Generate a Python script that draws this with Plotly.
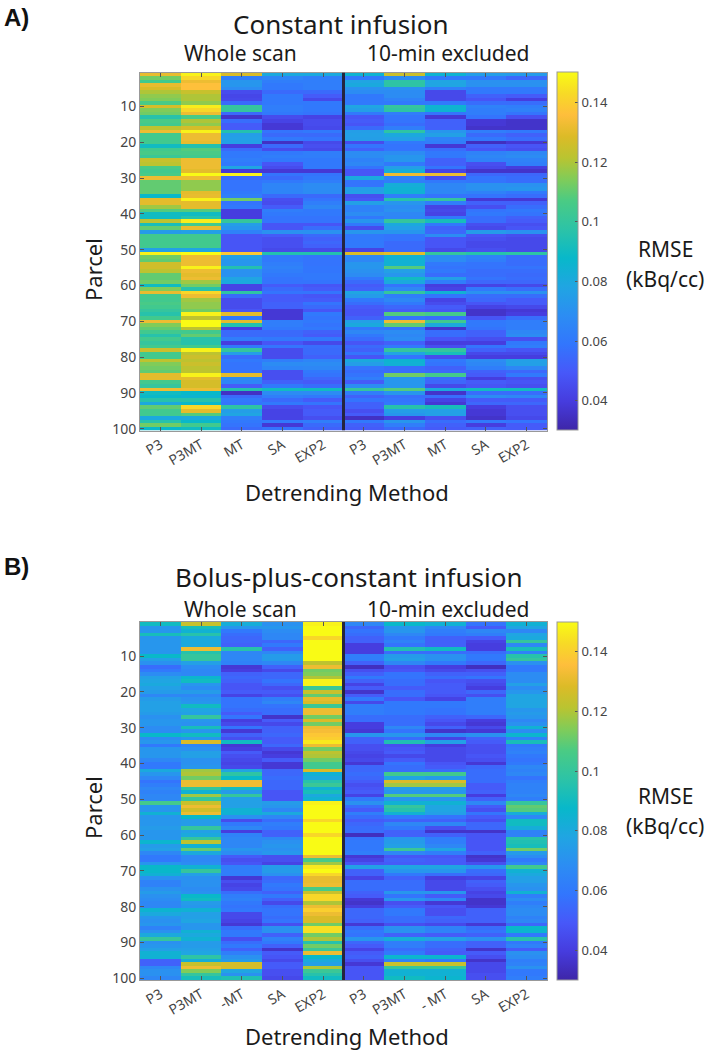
import plotly.graph_objects as go

METHODS_A = ["P3", "P3MT", "MT", "SA", "EXP2", "P3", "P3MT", "MT", "SA", "EXP2"]
METHODS_B = ["P3", "P3MT", "-MT", "SA", "EXP2", "P3", "P3MT", "- MT", "SA", "EXP2"]
PARCELS = list(range(1, 101))
YTICKS = [10, 20, 30, 40, 50, 60, 70, 80, 90, 100]
CBTICKS = [0.04, 0.06, 0.08, 0.1, 0.12, 0.14]

# RMSE in thousandths of kBq/cc, parcel 1 to 100
A_P3 = [131,112,104,131,128,120,116,114,106,127,
        114,112,96,106,104,122,132,104,104,104,
        90,104,106,102,124,122,106,104,106,132,
        110,110,110,110,88,130,130,118,108,90,
        90,122,92,110,74,104,104,104,104,76,
        148,112,110,126,126,122,110,110,112,90,
        114,131,104,104,106,104,100,96,104,132,
        114,110,104,96,104,100,104,125,104,104,
        122,114,112,110,130,130,104,100,132,90,
        88,96,80,110,104,104,80,96,112,88]
A_P3MT = [148,142,132,136,136,124,120,120,116,147,
          142,132,106,120,116,127,148,132,132,131,
          95,108,106,104,132,132,132,130,150,132,
          116,116,116,130,131,148,130,130,108,90,
          96,147,104,131,76,104,104,104,104,78,
          150,132,132,132,148,132,130,132,118,112,
          96,142,132,118,116,116,112,148,122,150,
          150,122,104,110,96,96,104,148,122,125,
          122,125,122,122,148,130,127,127,132,88,
          85,96,88,142,130,108,80,88,104,90]
A_MT = [128,62,72,72,68,45,43,44,55,100,
        100,55,36,56,50,50,95,75,76,76,
        40,55,60,60,62,60,78,38,148,55,
        58,58,58,60,62,112,58,60,40,40,
        40,100,75,72,64,48,48,48,48,48,
        138,75,72,72,95,70,70,78,80,42,
        42,98,55,45,45,45,48,130,60,130,
        95,40,55,55,62,40,60,100,75,55,
        60,58,58,58,130,68,65,50,95,35,
        55,60,58,98,75,78,62,60,58,55]
A_SA = [80,65,62,60,60,55,60,60,60,62,
        62,60,45,42,38,38,58,55,60,35,
        55,45,60,62,60,48,45,38,58,55,
        60,65,65,65,55,46,45,50,62,60,
        58,58,48,48,70,50,46,46,46,44,
        95,60,60,62,64,62,60,58,58,50,
        55,58,50,50,52,52,38,38,38,62,
        62,60,55,55,60,48,58,45,45,45,
        62,68,65,46,46,46,52,60,90,68,
        62,55,60,45,42,42,42,60,38,58]
A_EXP2 = [80,62,62,62,62,55,50,44,60,60,
          60,58,42,45,45,44,60,55,58,44,
          46,44,62,62,60,60,60,38,58,60,
          62,68,68,68,55,58,62,66,60,60,
          58,58,48,56,70,55,52,54,52,44,
          95,58,58,58,59,59,60,60,58,48,
          50,58,48,50,58,55,48,60,58,60,
          58,60,52,50,60,44,56,55,55,52,
          65,68,66,60,58,54,50,56,90,68,
          60,50,58,48,50,50,46,62,55,52]
A_P3X = [85,60,78,80,70,68,60,60,60,78,
         75,60,48,50,48,55,75,76,75,45,
         58,52,68,68,64,66,58,48,48,80,
         58,58,75,76,46,48,76,64,64,68,
         60,72,60,45,72,60,60,60,60,42,
         128,66,66,72,72,70,68,60,55,50,
         52,78,74,60,56,50,48,48,52,76,
         80,60,66,60,56,48,55,52,58,48,
         80,75,58,56,58,62,50,68,100,62,
         52,58,52,52,46,50,35,60,52,50]
A_P3MTX = [125,68,98,98,70,68,68,64,60,100,
           98,62,58,58,56,62,98,80,76,60,
           58,58,68,72,72,60,75,82,132,64,
           62,82,84,84,62,96,72,68,70,66,
           65,100,80,76,72,58,58,55,55,55,
           130,84,84,84,108,76,72,90,80,58,
           66,100,62,66,60,54,50,108,58,132,
           110,58,68,66,68,52,60,100,78,58,
           85,84,56,56,112,72,72,72,108,72,
           56,58,60,96,75,72,40,72,62,55]
A_MTX = [85,60,78,78,62,44,44,44,60,85,
         85,58,38,52,52,52,72,76,64,62,
         38,56,60,60,52,52,58,42,132,46,
         60,66,66,66,58,100,62,42,44,42,
         60,92,60,52,54,68,48,48,48,44,
         100,68,68,60,58,60,56,76,62,40,
         42,84,58,42,45,50,48,105,56,104,
         80,36,56,56,48,40,46,100,92,45,
         60,58,52,54,105,56,54,44,80,36,
         56,42,38,92,76,76,46,56,52,50]
A_SAX = [75,60,70,70,60,60,52,48,56,64,
         62,62,58,38,38,36,62,55,60,34,
         52,48,64,66,64,46,44,36,54,58,
         58,70,70,64,58,38,52,46,58,60,
         56,56,46,44,74,48,46,44,44,46,
         96,64,62,58,58,56,56,58,54,42,
         60,70,56,54,48,42,36,36,48,60,
         60,58,52,52,46,40,58,52,44,40,
         68,66,62,52,50,40,50,48,90,56,
         68,50,54,40,38,38,36,60,40,52]
A_EXP2X = [74,54,70,70,60,60,50,40,56,62,
           64,58,46,36,36,36,60,52,56,38,
           48,46,66,68,64,62,40,36,54,56,
           56,70,72,60,56,38,52,56,60,58,
           52,50,46,48,70,46,44,44,44,44,
           98,56,56,56,58,56,55,56,54,44,
           56,70,56,50,50,44,38,40,56,62,
           62,62,66,68,46,60,62,48,44,40,
           76,76,66,54,60,46,48,46,90,56,
           66,50,54,46,46,46,44,58,50,50]

B_P3 = [90,72,72,92,72,72,72,72,72,88,
        76,70,56,60,68,76,78,80,76,74,
        66,74,76,76,76,74,70,72,72,68,
        68,88,68,72,60,72,72,72,66,60,
        60,80,72,66,58,62,66,64,66,66,
        105,72,72,84,72,72,72,74,72,72,
        72,86,74,76,66,60,60,72,88,88,
        84,70,64,64,70,74,70,68,66,66,
        85,80,72,70,72,64,70,80,100,70,
        72,76,84,84,52,52,66,70,70,66]
B_P3MT = [124,92,84,96,80,80,80,132,96,100,
          100,76,68,66,66,86,90,72,68,74,
          66,70,72,90,78,76,100,72,70,92,
          72,90,72,128,66,70,76,76,70,70,
          72,118,120,112,132,132,100,84,118,100,
          124,132,126,132,88,74,74,100,76,80,
          100,122,84,110,80,66,66,68,84,100,
          76,70,70,70,68,70,88,90,74,72,
          84,76,76,78,72,72,84,80,84,74,
          74,76,78,98,82,124,132,114,100,92]
B_MT = [82,72,60,56,54,54,52,96,66,66,
        66,64,38,40,52,54,52,48,48,50,
        42,58,58,58,56,50,58,40,44,58,
        38,52,46,90,38,40,50,46,44,42,
        44,78,98,88,132,132,90,74,100,76,
        76,76,84,84,70,45,60,66,40,64,
        66,66,66,72,68,50,46,48,62,62,
        62,38,46,42,44,56,62,64,60,58,
        60,44,44,42,38,56,60,60,46,56,
        60,52,62,70,74,127,127,78,70,94]
B_SA = [70,72,68,66,66,54,60,52,66,74,
        74,66,52,44,54,54,58,54,46,50,
        46,62,66,58,56,56,36,50,44,52,
        52,54,50,50,54,44,38,40,50,38,
        38,54,54,56,54,54,54,48,48,48,
        74,72,66,80,66,56,62,60,52,52,
        66,70,72,70,72,46,46,42,74,74,
        70,54,56,60,58,52,60,52,44,56,
        58,58,56,58,46,70,70,52,64,60,
        52,36,50,48,44,50,50,46,46,44]
B_EXP2 = [148,150,150,150,142,150,150,150,150,150,
          150,122,132,112,114,120,148,148,102,124,
          110,130,128,102,132,132,112,128,112,132,
          134,138,140,146,132,112,122,120,112,104,
          104,128,84,80,96,102,84,92,80,84,
          148,150,150,150,150,142,150,150,150,142,
          150,150,150,150,150,132,106,118,146,150,
          142,131,131,132,106,124,142,142,120,132,
          140,132,128,128,112,144,144,112,120,96,
          112,102,132,88,80,76,120,102,96,90]
B_P3X = [66,54,58,56,52,52,40,40,40,62,
         62,52,34,46,52,60,52,42,50,36,
         50,60,44,62,62,62,56,56,40,40,
         38,72,52,52,46,46,44,42,44,38,
         54,54,56,54,50,46,48,50,42,60,
         70,56,50,62,56,50,54,56,56,34,
         58,60,60,60,62,38,42,48,76,52,
         52,42,56,56,56,52,50,38,36,40,
         54,54,54,52,38,56,60,58,72,54,
         50,42,50,52,46,38,48,48,48,48]
B_P3MTX = [88,72,72,66,60,64,58,94,56,74,
           76,66,46,48,58,58,56,56,50,56,
           56,48,60,60,60,60,56,56,56,66,
           58,72,56,94,46,48,50,44,50,58,
           56,56,104,78,128,118,76,72,108,72,
           84,100,96,84,60,52,66,60,52,52,
           72,74,76,102,66,48,52,50,78,72,
           60,52,56,56,56,72,58,72,46,50,
           60,60,56,56,46,70,70,52,82,62,
           62,56,60,86,64,124,100,84,84,90]
B_MTX = [84,66,62,60,52,52,52,90,56,70,
         70,60,40,44,52,56,48,50,50,50,
         48,42,60,60,58,58,52,48,44,52,
         36,66,42,76,40,44,44,44,44,48,
         50,56,104,74,128,118,76,72,108,72,
         84,78,78,76,58,52,66,46,36,52,
         62,62,66,78,62,48,50,50,78,72,
         56,40,44,44,44,72,50,66,38,48,
         46,46,54,52,44,64,64,50,76,56,
         56,52,50,86,60,124,100,84,84,86]
B_SAX = [58,50,66,62,50,42,40,40,56,60,
         60,54,34,46,52,58,46,44,40,54,
         46,62,62,62,62,62,54,40,38,44,
         38,70,52,50,46,46,46,48,46,38,
         54,56,56,56,56,50,50,52,40,52,
         66,50,46,58,50,46,54,54,36,48,
         48,48,48,48,52,36,38,46,72,56,
         54,42,52,50,46,42,44,36,36,38,
         52,52,52,52,38,56,58,52,70,52,
         52,36,50,46,36,44,44,44,46,46]
B_EXP2X = [84,78,66,78,80,100,66,92,64,96,
           100,70,60,60,68,68,68,76,68,72,
           78,78,78,78,72,74,72,66,70,84,
           68,86,64,92,60,62,64,60,58,60,
           66,64,66,58,62,64,64,64,66,62,
           100,110,108,82,66,90,90,82,64,64,
           96,94,92,112,74,68,60,66,104,84,
           80,76,76,72,70,84,62,68,62,66,
           68,68,64,66,54,88,86,60,96,60,
           64,50,70,68,62,64,70,60,60,62]

COLS_A = [A_P3, A_P3MT, A_MT, A_SA, A_EXP2, A_P3X, A_P3MTX, A_MTX, A_SAX, A_EXP2X]
COLS_B = [B_P3, B_P3MT, B_MT, B_SA, B_EXP2, B_P3X, B_P3MTX, B_MTX, B_SAX, B_EXP2X]
for c in COLS_A + COLS_B:
    assert len(c) == 100, len(c)

PARULA = [
    (0.00, (62, 38, 168)), (0.08, (70, 60, 222)), (0.16, (71, 88, 249)),
    (0.24, (50, 118, 253)), (0.32, (44, 141, 243)), (0.40, (32, 165, 226)),
    (0.48, (8, 184, 202)), (0.56, (44, 195, 167)), (0.64, (74, 203, 132)),
    (0.70, (128, 204, 89)), (0.76, (185, 196, 49)), (0.82, (220, 187, 39)),
    (0.88, (254, 190, 60)), (0.94, (247, 218, 38)), (1.00, (249, 251, 21)),
]
COLORSCALE = [[t, f"rgb{c}"] for t, c in PARULA]

W, H = 710.0, 1050.0
X0, X1 = 140.0, 547.0
PANELS = [
    dict(cols=COLS_A, labels=METHODS_A, top=72.5, bot=430.5, suffix="", title="Constant infusion", title_x=341,
         tag="A)", tag_y=18, title_y=24, sub_y=53, xlab_y=492, rm_y=264, par_y=270),
    dict(cols=COLS_B, labels=METHODS_B, top=622.0, bot=980.0, suffix="2", title="Bolus-plus-constant infusion", title_x=349,
         tag="B)", tag_y=566, title_y=577, sub_y=609, xlab_y=1036, rm_y=811, par_y=808),
]

fig = go.Figure()
notes = []
def note(x, y, text, size, color="#1a1a1a", rot=0, font="Noto Sans"):
    notes.append(dict(x=x / W, y=1 - y / H, xref="paper", yref="paper", text=text, showarrow=False,
                      font=dict(size=size, color=color, family=font), textangle=rot,
                      xanchor="center", yanchor="middle"))

for p in PANELS:
    z = [[p["cols"][j][i] / 1000 for j in range(10)] for i in range(100)]
    s = p["suffix"]
    dom_y = [1 - p["bot"] / H, 1 - p["top"] / H]
    fig.add_trace(go.Heatmap(
        z=z, x=list(range(10)), y=PARCELS, xaxis="x" + s, yaxis="y" + s,
        colorscale=COLORSCALE, zmin=0.03, zmax=0.15, hoverongaps=False,
        colorbar=dict(x=557 / W, xanchor="left", thickness=21, thicknessmode="pixels",
                      len=(p["bot"] - p["top"]) / H, lenmode="fraction",
                      y=dom_y[0], yanchor="bottom", xpad=0, ypad=0,
                      tickvals=CBTICKS, ticktext=[f"{v:g}" for v in CBTICKS],
                      ticks="inside", ticklen=3, tickcolor="#555555",
                      tickfont=dict(size=13, color="#444444", family="Noto Sans"),
                      outlinecolor="#999999", outlinewidth=1),
    ))
    ax = dict(domain=[X0 / W, X1 / W], range=[-0.5, 9.5], tickmode="array", tickvals=list(range(10)),
              ticktext=p["labels"], tickangle=-30, ticks="inside", ticklen=4, tickcolor="#555555",
              mirror="ticks", showline=True, linecolor="#999999", linewidth=1, showgrid=False, zeroline=False,
              tickfont=dict(size=14, color="#444444", family="Noto Sans"))
    ay = dict(domain=dom_y, range=[100.5, 0.5], tickmode="array", tickvals=YTICKS,
              ticktext=[str(v) for v in YTICKS], ticks="inside", ticklen=4, tickcolor="#555555",
              mirror="ticks", showline=True, linecolor="#999999", linewidth=1, showgrid=False, zeroline=False,
              tickfont=dict(size=14, color="#444444", family="Noto Sans"))
    if s:
        ax["anchor"] = "y" + s
        ay["anchor"] = "x" + s
    fig.update_layout({"xaxis" + s: ax, "yaxis" + s: ay})
    fig.add_shape(type="line", xref="x" + s, yref="y" + s, x0=4.5, x1=4.5, y0=0.5, y1=100.5,
                  line=dict(color="#25253f", width=3), layer="above")

    note(p["title_x"], p["title_y"], p["title"], 26)
    note(240, p["sub_y"], "Whole scan", 21)
    note(448, p["sub_y"], "10-min excluded", 21)
    note(347, p["xlab_y"], "Detrending Method", 22)
    note(93, p["par_y"], "Parcel", 22, rot=-90)
    note(665, p["rm_y"] - 15, "RMSE", 21)
    note(665, p["rm_y"] + 15, "(kBq/cc)", 21)
    note(16, p["tag_y"], "<b>" + p["tag"] + "</b>", 24, color="#111111", font="Liberation Sans")

fig.update_layout(width=W, height=H, margin=dict(l=0, r=0, t=0, b=0, autoexpand=False), autosize=False,
                  paper_bgcolor="white", plot_bgcolor="white", annotations=notes, showlegend=False)
# The page's default 8 px body margin would push the figure off the window
fig.write_html("out.html", config={"displayModeBar": False}, post_script="document.body.style.margin='0';")
